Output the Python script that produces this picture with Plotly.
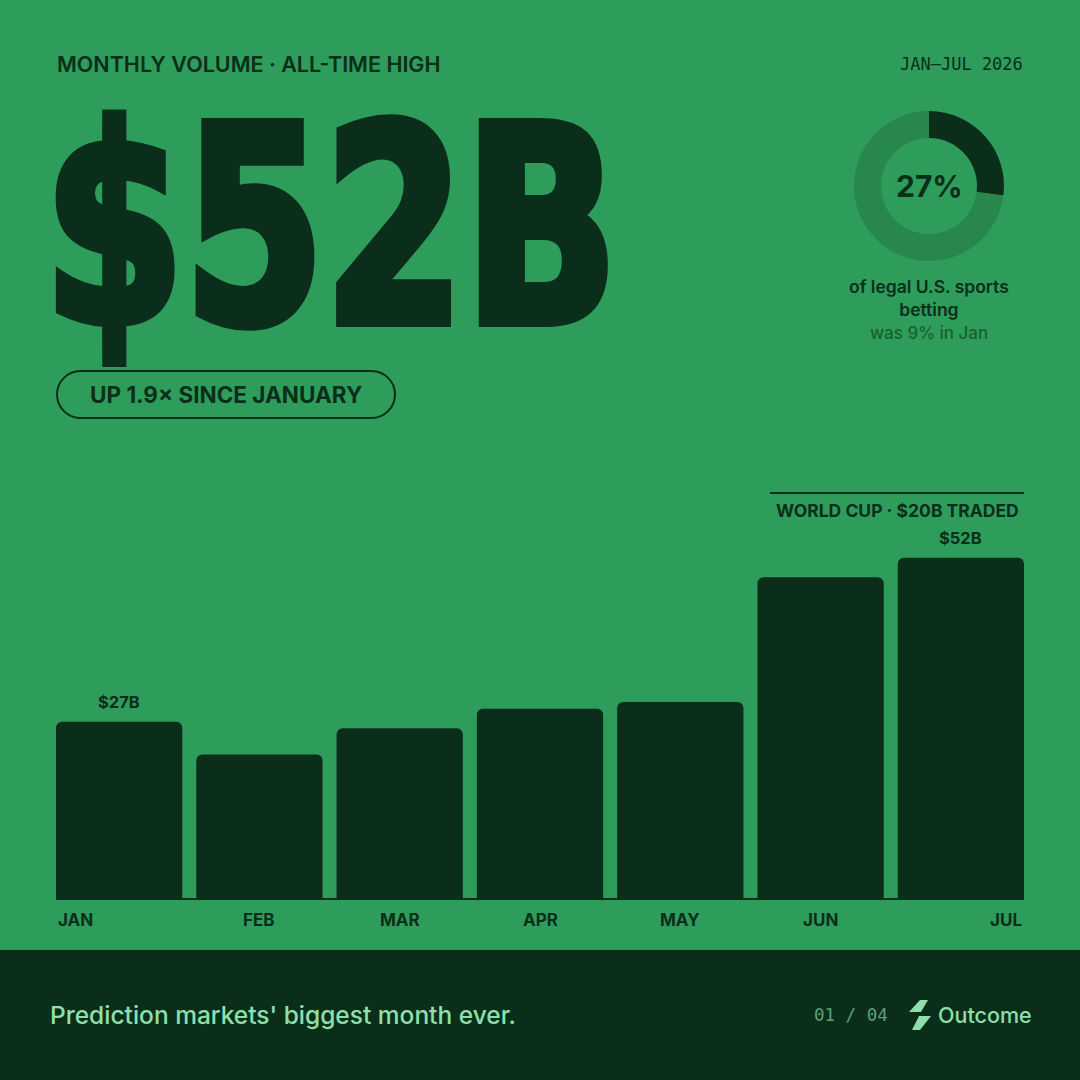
import plotly.graph_objects as go

# monthly prediction-market volume, $B
months = ["JAN", "FEB", "MAR", "APR", "MAY", "JUN", "JUL"]
volume_b = [27, 22, 26, 29, 30, 49, 52]
labeled = ["JAN", "JUL"]

# share of legal U.S. sports betting, %
share_now = 27
share_jan = 9

world_cup_traded_b = 20

BG = "#2e9c5b"
DARK = "#0b2e1b"
RING = "#27874c"
MINT = "#8ee0ab"
MUTED = "#5f9e78"
SUB = "#17622f"

W = H = 1080
HERO_SIZE = 273


def px(x):
    return x / W


def py(y):
    return 1 - y / H


def pill_path(x0, y0, x1, y1):
    r = (y1 - y0) / 2
    k = 0.5523 * r
    pts = [
        ("M", [(x0 + r, y0)]),
        ("L", [(x1 - r, y0)]),
        ("C", [(x1 - r + k, y0), (x1, y0 + r - k), (x1, y0 + r)]),
        ("C", [(x1, y0 + r + k), (x1 - r + k, y1), (x1 - r, y1)]),
        ("L", [(x0 + r, y1)]),
        ("C", [(x0 + r - k, y1), (x0, y1 - r + k), (x0, y1 - r)]),
        ("C", [(x0, y0 + r - k), (x0 + r - k, y0), (x0 + r, y0)]),
    ]
    out = ""
    for cmd, ps in pts:
        out += cmd + " " + " ".join(f"{px(a):.5f},{py(b):.5f}" for a, b in ps) + " "
    return out + "Z"


def poly_path(points):
    return "M " + " L ".join(f"{px(a):.5f},{py(b):.5f}" for a, b in points) + " Z"


fig = go.Figure()

fig.add_trace(go.Bar(
    x=months, y=volume_b,
    marker=dict(color=DARK, line=dict(width=0)),
    width=0.9,
    hoverinfo="skip",
))

fig.add_trace(go.Pie(
    values=[share_now, 100 - share_now],
    hole=0.64,
    sort=False,
    direction="clockwise",
    rotation=0,
    marker=dict(colors=[DARK, RING], line=dict(width=0)),
    textinfo="none",
    hoverinfo="skip",
    showlegend=False,
    domain=dict(x=[px(854), px(1004)], y=[py(261), py(111)]),
))

ann = []


def txt(x, y, text, size, color=DARK, family="Inter", weight=400, xanchor="left", **kw):
    ann.append(dict(
        x=x, y=y, xref=kw.pop("xref", "paper"), yref=kw.pop("yref", "paper"),
        text=text, showarrow=False, xanchor=xanchor, yanchor=kw.pop("yanchor", "middle"),
        font=dict(family=family, size=size, color=color, weight=weight), **kw))


# header
txt(px(55), py(64), "MONTHLY VOLUME · ALL-TIME HIGH", 21.5, weight=600)
txt(px(1025), py(64), "JAN—JUL 2026", 17, family="DejaVu Sans Mono", xanchor="right")
txt(px(42), py(227.5), f"${volume_b[-1]}B", HERO_SIZE,
    family="DejaVu Sans Condensed, DejaVu Sans, sans-serif", weight=700)
txt(px(226), py(394), f"UP {volume_b[-1] / volume_b[0]:.1f}× SINCE JANUARY", 22.5, weight=700, xanchor="center")

# donut
txt(px(929), py(186), f"{share_now}%", 30, weight=700, xanchor="center")
txt(px(929), py(298), "of legal U.S. sports<br>betting", 17.5, weight=600, xanchor="center")
txt(px(929), py(333), f"was {share_jan}% in Jan", 17, color=SUB, weight=500, xanchor="center")

# world cup bracket
txt(px(897), py(510), f"WORLD CUP · ${world_cup_traded_b}B TRADED", 17.5, weight=700, xanchor="center")

# bar value labels and month labels
for m, v in zip(months, volume_b):
    if m in labeled:
        txt(m, v, f"${v}B", 16.5, weight=700, xanchor="center", xref="x", yref="y",
            yanchor="bottom", yshift=8)
for i, m in enumerate(months):
    if i == 0:
        anchor, shift = "left", -63
    elif i == len(months) - 1:
        anchor, shift = "right", 63
    else:
        anchor, shift = "center", 0
    txt(m, 0, m, 17, weight=700, xanchor=anchor, xref="x", yref="y",
        yanchor="top", yshift=-9, xshift=shift)

# footer
txt(px(48), py(1015), "Prediction markets' biggest month ever.", 24.5, color=MINT, weight=500)
txt(px(812), py(1015), "01 / 04", 17.5, color=MUTED, family="DejaVu Sans Mono")
txt(px(936), py(1015), "Outcome", 21.5, color=MINT, weight=500)

shapes = [
    dict(type="rect", xref="paper", yref="paper", x0=0, x1=1, y0=0, y1=py(950),
         fillcolor=DARK, line=dict(width=0), layer="below"),
    dict(type="path", xref="paper", yref="paper", path=pill_path(57, 371, 395, 418),
         line=dict(color=DARK, width=2)),
    dict(type="line", xref="paper", yref="paper", x0=px(770), x1=px(1024),
         y0=py(493), y1=py(493), line=dict(color=DARK, width=2)),
    dict(type="path", xref="paper", yref="paper",
         path=poly_path([(920, 1000), (928, 1000), (921, 1012), (909, 1012)]),
         fillcolor=MINT, line=dict(width=0)),
    dict(type="path", xref="paper", yref="paper",
         path=poly_path([(919, 1016), (931, 1016), (920, 1030), (912, 1030)]),
         fillcolor=MINT, line=dict(width=0)),
]

fig.update_layout(
    width=W, height=H,
    margin=dict(l=0, r=0, t=0, b=0),
    paper_bgcolor=BG, plot_bgcolor=BG,
    showlegend=False,
    bargap=0.1,
    barcornerradius=6,
    xaxis=dict(domain=[px(56), px(1024)], type="category", range=[-0.45, 6.45],
               showticklabels=False, showgrid=False, zeroline=False, fixedrange=True),
    yaxis=dict(domain=[py(899), py(450)], range=[0, 68.4], showticklabels=False,
               showgrid=False, zeroline=True, zerolinecolor=DARK, zerolinewidth=2, fixedrange=True),
    annotations=ann,
    shapes=shapes,
)

# no body margin; squeeze and thicken the hero number like a heavy condensed display face
post = """
document.body.style.margin = '0';
var gd = document.getElementById('{plot_id}');
gd.querySelectorAll('.annotation-text').forEach(function (t) {
  if (parseFloat(t.style.fontSize) > 100) {
    t.style.stroke = '%s';
    t.style.strokeWidth = '10px';
    t.style.strokeLinejoin = 'miter';
    t.style.transformBox = 'fill-box';
    t.style.transformOrigin = 'left center';
    t.style.transform = 'scaleX(0.82)';
  }
});
""" % DARK

fig.write_html("out.html", post_script=post, config={"displayModeBar": False})
